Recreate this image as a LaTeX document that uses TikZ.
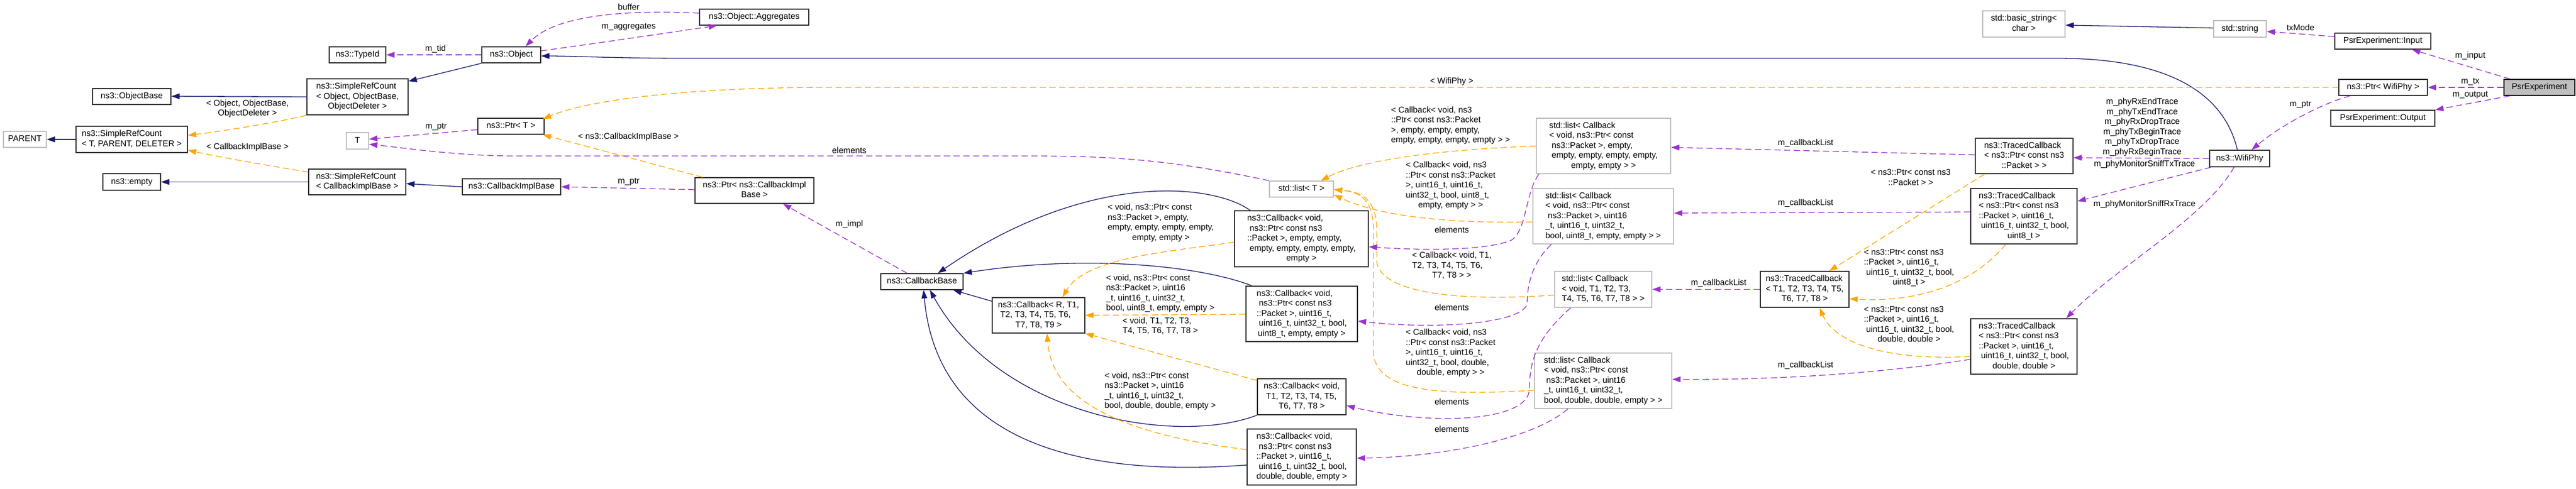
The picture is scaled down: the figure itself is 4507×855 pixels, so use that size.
\documentclass[tikz,border=0pt]{standalone}
\usepackage{fontspec}
\setmainfont{Liberation Sans}
\usetikzlibrary{arrows.meta}
\definecolor{inhc}{HTML}{191970}
\definecolor{usec}{HTML}{9A32CD}
\definecolor{tplc}{HTML}{FFA500}
\definecolor{undoc}{HTML}{BFBFBF}
\definecolor{docc}{HTML}{303030}
\newcommand{\ml}[2]{\begin{tabular}{@{}l@{}}#1\\\multicolumn{1}{@{}c@{}}{#2}\end{tabular}}
\tikzset{
  box/.style={draw=docc, line width=1.6pt, fill=white, rectangle, inner sep=0pt, font=\fontsize{14.8}{17.5}\selectfont, align=center},
  ubox/.style={box, draw=undoc},
  lbl/.style={inner sep=0pt, font=\fontsize{14.8}{17.5}\selectfont, align=center},
  tip/.style={-{Triangle[length=14.5pt,width=10pt]}},
  inh/.style={draw=inhc, line width=1.3pt, tip},
  use/.style={draw=usec, line width=1.3pt, dash pattern=on 11pt off 6pt, tip},
  tpl/.style={draw=tplc, line width=1.3pt, dash pattern=on 11pt off 6pt, tip}
}
\begin{document}
\begin{tikzpicture}[x=1pt,y=-1pt]
\useasboundingbox (0,0) rectangle (4507,855);
% ---------- nodes ----------
\node[ubox, minimum width=75pt, minimum height=28pt] (parent) at (43.5,244) {\strut PARENT};
\node[box, minimum width=195pt, minimum height=46pt] (srcT) at (230.5,244) {\ml{ns3::SimpleRefCount}{< T, PARENT, DELETER >}};
\node[box, minimum width=137pt, minimum height=28pt] (objbase) at (230.5,169) {\strut ns3::ObjectBase};
\node[box, minimum width=101pt, minimum height=29pt] (empty) at (230.5,318.5) {\strut ns3::empty};
\node[box, minimum width=99pt, minimum height=28pt] (typeid) at (625.5,96) {\strut ns3::TypeId};
\node[box, minimum width=177pt, minimum height=63pt] (srcO) at (625.5,169.5) {\ml{ns3::SimpleRefCount\\< Object, ObjectBase,}{ObjectDeleter >}};
\node[ubox, minimum width=39pt, minimum height=29pt] (T) at (625.5,246.5) {\strut T};
\node[box, minimum width=170pt, minimum height=45pt] (srcCIB) at (625,318.5) {\ml{ns3::SimpleRefCount}{< CallbackImplBase >}};
\node[box, minimum width=103pt, minimum height=28pt] (object) at (894.5,96) {\strut ns3::Object};
\node[box, minimum width=116pt, minimum height=28pt] (ptrT) at (894,221) {\strut ns3::Ptr< T >};
\node[box, minimum width=172pt, minimum height=28pt] (cib) at (895,327) {\strut ns3::CallbackImplBase};
\node[box, minimum width=191pt, minimum height=28pt] (aggregates) at (1319.5,30) {\strut ns3::Object::Aggregates};
\node[box, minimum width=208pt, minimum height=45pt] (ptrCIB) at (1320,333.5) {\ml{ns3::Ptr< ns3::CallbackImpl}{Base >}};
\node[box, minimum width=144pt, minimum height=28pt] (cbbase) at (1613,493) {\strut ns3::CallbackBase};
\node[box, minimum width=162pt, minimum height=62pt] (cbR) at (1817,552) {\ml{ns3::Callback< R, T1,\\\ T2, T3, T4, T5, T6,}{T7, T8, T9 >}};
\node[ubox, minimum width=112pt, minimum height=28pt] (listT) at (2277,331) {\strut std::list< T >};
\node[box, minimum width=234pt, minimum height=98pt] (cbEmpty) at (2277,418) {\ml{ns3::Callback< void,\\\ ns3::Ptr< const ns3\\::Packet >, empty, empty,\\\ empty, empty, empty, empty,}{empty >}};
\node[box, minimum width=195pt, minimum height=97pt] (cbU8) at (2277.5,549.5) {\ml{ns3::Callback< void,\\\ ns3::Ptr< const ns3\\::Packet >, uint16\_t,\\\ uint16\_t, uint32\_t, bool,}{uint8\_t, empty, empty >}};
\node[box, minimum width=155pt, minimum height=63pt] (cbT) at (2277.5,694.5) {\ml{ns3::Callback< void,\\\ T1, T2, T3, T4, T5,}{T6, T7, T8 >}};
\node[box, minimum width=191pt, minimum height=98pt] (cbDbl) at (2277.5,800) {\ml{ns3::Callback< void,\\\ ns3::Ptr< const ns3\\::Packet >, uint16\_t,\\\ uint16\_t, uint32\_t, bool,}{double, double, empty >}};
\node[ubox, minimum width=235pt, minimum height=97pt] (listEmpty) at (2805.5,255.5) {\ml{std::list< Callback\\< void, ns3::Ptr< const\\\ ns3::Packet >, empty,\\\ empty, empty, empty, empty,}{empty, empty > >}};
\node[ubox, minimum width=246pt, minimum height=97pt] (listU8) at (2805,378.5) {\ml{std::list< Callback\\< void, ns3::Ptr< const\\\ ns3::Packet >, uint16\\\_t, uint16\_t, uint32\_t,}{bool, uint8\_t, empty, empty > >}};
\node[ubox, minimum width=170pt, minimum height=63pt] (listT8) at (2805,506.5) {\ml{std::list< Callback\\< void, T1, T2, T3,}{T4, T5, T6, T7, T8 > >}};
\node[ubox, minimum width=240pt, minimum height=97pt] (listDbl) at (2805,666.5) {\ml{std::list< Callback\\< void, ns3::Ptr< const\\\ ns3::Packet >, uint16\\\_t, uint16\_t, uint32\_t,}{bool, double, double, empty > >}};
\node[ubox, minimum width=144pt, minimum height=46pt] (basicstr) at (3541,42) {\ml{std::basic\_string<}{char >}};
\node[box, minimum width=171pt, minimum height=62pt] (tcPtr) at (3541.5,273) {\ml{ns3::TracedCallback\\< ns3::Ptr< const ns3}{::Packet > >}};
\node[box, minimum width=186pt, minimum height=97pt] (tcU8) at (3541,378.5) {\ml{ns3::TracedCallback\\< ns3::Ptr< const ns3\\::Packet >, uint16\_t,\\\ uint16\_t, uint32\_t, bool,}{uint8\_t >}};
\node[box, minimum width=155pt, minimum height=63pt] (tcT) at (3157.5,506.5) {\ml{ns3::TracedCallback\\< T1, T2, T3, T4, T5,}{T6, T7, T8 >}};
\node[box, minimum width=186pt, minimum height=97pt] (tcDbl) at (3541,606.5) {\ml{ns3::TracedCallback\\< ns3::Ptr< const ns3\\::Packet >, uint16\_t,\\\ uint16\_t, uint32\_t, bool,}{double, double >}};
\node[ubox, minimum width=92pt, minimum height=29pt] (string) at (3919,50.5) {\strut std::string};
\node[box, minimum width=105pt, minimum height=29pt] (wifiphy) at (3918.5,277.5) {\strut ns3::WifiPhy};
\node[box, minimum width=168pt, minimum height=28pt] (input) at (4169,72) {\strut PsrExperiment::Input};
\node[box, minimum width=155pt, minimum height=28pt] (ptrWifi) at (4169.5,153) {\strut ns3::Ptr< WifiPhy >};
\node[box, minimum width=182pt, minimum height=28pt] (output) at (4169,207) {\strut PsrExperiment::Output};
\node[box, draw=black, fill=undoc, minimum width=124pt, minimum height=28pt] (psr) at (4443,153) {\strut PsrExperiment};
% ---------- edge labels ----------
\node[lbl] (l1) at (762,86) {m\_tid};
\node[lbl] (l2) at (1100,12) {buffer};
\node[lbl] (l3) at (1100,47) {m\_aggregates};
\node[lbl] (l4) at (433,190.5) {\ml{< Object, ObjectBase,}{ObjectDeleter >}};
\node[lbl] (l5) at (433,258) {< CallbackImplBase >};
\node[lbl] (l6) at (763,222) {m\_ptr};
\node[lbl] (l7) at (1099.5,240) {< ns3::CallbackImplBase >};
\node[lbl] (l8) at (1100,318) {m\_ptr};
\node[lbl] (l9) at (1486,393) {m\_impl};
\node[lbl] (l10) at (1486,263) {elements};
\node[lbl] (l11) at (2540,143) {< WifiPhy >};
\node[lbl] (l12) at (2031,390.5) {\ml{< void, ns3::Ptr< const\\ns3::Packet >, empty,\\empty, empty, empty, empty,}{empty, empty >}};
\node[lbl] (l13) at (2030,514) {\ml{< void, ns3::Ptr< const\\ns3::Packet >, uint16\\\_t, uint16\_t, uint32\_t,}{bool, uint8\_t, empty, empty >}};
\node[lbl] (l14) at (2030,571.5) {\ml{< void, T1, T2, T3,}{T4, T5, T6, T7, T8 >}};
\node[lbl] (l15) at (2030,685) {\ml{< void, ns3::Ptr< const\\ns3::Packet >, uint16\\\_t, uint16\_t, uint32\_t,}{bool, double, double, empty >}};
\node[lbl] (l16) at (2538,220) {\ml{< Callback< void, ns3\\::Ptr< const ns3::Packet\\>, empty, empty, empty,}{empty, empty, empty, empty > >}};
\node[lbl] (l17) at (2538,325) {\ml{< Callback< void, ns3\\::Ptr< const ns3::Packet\\>, uint16\_t, uint16\_t,\\uint32\_t, bool, uint8\_t,}{empty, empty > >}};
\node[lbl] (l18) at (2540,402) {elements};
\node[lbl] (l19) at (2540,465.5) {\ml{< Callback< void, T1,\\T2, T3, T4, T5, T6,}{T7, T8 > >}};
\node[lbl] (l20) at (2540,538) {elements};
\node[lbl] (l21) at (2538,618) {\ml{< Callback< void, ns3\\::Ptr< const ns3::Packet\\>, uint16\_t, uint16\_t,\\uint32\_t, bool, double,}{double, empty > >}};
\node[lbl] (l22) at (2540,703) {elements};
\node[lbl] (l23) at (2540,751) {elements};
\node[lbl] (l24) at (3159,251) {m\_callbackList};
\node[lbl] (l25) at (3343,312) {\ml{< ns3::Ptr< const ns3}{::Packet > >}};
\node[lbl] (l26) at (3159,356) {m\_callbackList};
\node[lbl] (l27) at (3007,496) {m\_callbackList};
\node[lbl] (l28) at (3340,469) {\ml{< ns3::Ptr< const ns3\\::Packet >, uint16\_t,\\\ uint16\_t, uint32\_t, bool,}{uint8\_t >}};
\node[lbl] (l29) at (3340,569) {\ml{< ns3::Ptr< const ns3\\::Packet >, uint16\_t,\\\ uint16\_t, uint32\_t, bool,}{double, double >}};
\node[lbl] (l30) at (3159,640) {m\_callbackList};
\node[lbl] (l31) at (3748,222.5) {m\_phyRxEndTrace\\m\_phyTxEndTrace\\m\_phyRxDropTrace\\m\_phyTxBeginTrace\\m\_phyTxDropTrace\\m\_phyRxBeginTrace};
\node[lbl] (l32) at (3752,288) {m\_phyMonitorSniffTxTrace};
\node[lbl] (l33) at (3752,358) {m\_phyMonitorSniffRxTrace};
\node[lbl] (l34) at (4025,48) {txMode};
\node[lbl] (l35) at (4322,98) {m\_input};
\node[lbl] (l36) at (4322,143) {m\_tx};
\node[lbl] (l37) at (4322,166) {m\_output};
\node[lbl] (l38) at (4025,183) {m\_ptr};
% ---------- inheritance ----------
\draw[inh] (srcT.west) -- (parent.east);
\draw[inh] (srcO.west) -- ([yshift=0.5pt]objbase.east);
\draw[inh] (srcCIB.west) -- (empty.east);
\draw[inh] (object.south west) -- ([yshift=-5pt]srcO.north east);
\draw[inh] (cib.west) -- ([yshift=-3pt]srcCIB.east);
\draw[inh] ([xshift=-4pt]wifiphy.north) .. controls (3890,160) and (3790,102) .. (3600,102) -- (1200,102) .. controls (1080,102) and (1000,98) .. ([yshift=-2pt]object.east);
\draw[inh] ([yshift=-7pt]cbR.north west) -- ([xshift=-18pt]cbbase.south east);
\draw[inh] ([xshift=28pt]cbEmpty.north west) .. controls (2120,320) and (1900,300) .. ([xshift=28pt]cbbase.north);
\draw[inh] ([xshift=11pt]cbU8.north west) .. controls (2100,465) and (1900,445) .. (cbbase.north east);
\draw[inh] (cbT.south west) .. controls (2060,780) and (1750,730) .. ([xshift=14pt]cbbase.south);
\draw[inh] ([yshift=-14pt]cbDbl.west) .. controls (1900,835) and (1640,780) .. ([xshift=3pt]cbbase.south);
\draw[inh] ([yshift=1.5pt]string.west) -- ([yshift=-2pt]basicstr.east);
% ---------- template instances ----------
\draw[tpl] (srcO.south west) .. controls (480,215) and (400,228) .. ([yshift=7pt]srcT.east);
\draw[tpl] ([yshift=-6pt]srcCIB.north west) .. controls (470,290) and (400,278) .. ([yshift=-19pt]srcT.east);
\draw[tpl] (ptrWifi.west) -- (1450,153) .. controls (1200,153) and (1030,175) .. ([xshift=-3pt,yshift=-2pt]ptrT.north east);
\draw[tpl] ([xshift=14pt]ptrCIB.north west) -- ([xshift=-3pt]ptrT.south east);
\draw[tpl] ([yshift=-6pt]cbEmpty.west) .. controls (2050,440) and (1900,450) .. ([xshift=42pt]cbR.north);
\draw[tpl] ([yshift=-0.5pt]cbU8.west) -- (cbR.east);
\draw[tpl] ([yshift=28.5pt]cbT.west) -- (cbR.south east);
\draw[tpl] ([yshift=13pt]cbDbl.west) .. controls (1960,760) and (1840,700) .. ([xshift=15pt]cbR.south);
\draw[tpl] (listEmpty.west) .. controls (2520,262) and (2380,280) .. ([xshift=34pt]listT.north);
\draw[tpl] ([yshift=-10pt]listU8.west) .. controls (2500,392) and (2400,372) .. ([yshift=-10pt]listT.east);
\draw[tpl] ([yshift=-10pt]listT8.west) .. controls (2560,528) and (2420,515) .. (2409,460) -- (2409,400) .. controls (2407,350) and (2385,336) .. ([yshift=-1pt]listT.east);
\draw[tpl] ([yshift=-16.5pt]listDbl.west) .. controls (2500,695) and (2410,680) .. (2403,620) -- (2403,400) .. controls (2402,350) and (2380,336) .. ([yshift=-1pt]listT.east);
\draw[tpl] ([xshift=17pt]tcPtr.south west) -- ([xshift=43pt]tcT.north);
\draw[tpl] ([xshift=-32pt]tcU8.south) .. controls (3450,500) and (3350,530) .. ([yshift=-16.5pt]tcT.east);
\draw[tpl] ([yshift=-17.5pt]tcDbl.west) .. controls (3300,632) and (3210,600) .. ([xshift=26pt]tcT.south);
% ---------- usage ----------
\draw[use] (object.west) -- (typeid.east);
\draw[use] ([yshift=7pt]aggregates.west) .. controls (1080,16) and (970,30) .. ([xshift=25pt]object.north);
\draw[use] ([yshift=7pt]object.east) .. controls (1050,75) and (1150,60) .. ([xshift=-65pt]aggregates.south);
\draw[use] ([yshift=-6pt]ptrT.west) -- ([yshift=3pt]T.east);
\draw[use] (listT.north west) .. controls (2050,280) and (1950,273) .. (1800,273) -- (900,273) .. controls (800,273) and (700,258) .. ([yshift=-6pt]T.east);
\draw[use] ([yshift=1.5pt]ptrCIB.west) -- (cib.east);
\draw[use] ([xshift=-26pt]cbbase.north) -- ([xshift=50pt]ptrCIB.south);
\draw[use] ([xshift=5pt]listEmpty.south west) .. controls (2668,340) and (2672,400) .. (2645,420) .. controls (2600,440) and (2480,438) .. ([yshift=-14pt]cbEmpty.east);
\draw[use] ([xshift=33pt]listU8.south west) .. controls (2680,460) and (2672,500) .. (2672,530) .. controls (2670,565) and (2520,578) .. ([yshift=-12.5pt]cbU8.east);
\draw[use] ([xshift=29pt]listT8.south west) .. controls (2690,590) and (2676,630) .. (2676,680) .. controls (2676,740) and (2500,745) .. ([yshift=-15.5pt]cbT.east);
\draw[use] ([xshift=59pt]listDbl.south west) .. controls (2680,770) and (2520,800) .. ([yshift=-2pt]cbDbl.east);
\draw[use] ([yshift=2pt]tcPtr.west) -- ([yshift=-2.5pt]listEmpty.east);
\draw[use] ([yshift=7.5pt]tcU8.west) -- ([yshift=5.5pt]listU8.east);
\draw[use] (tcT.west) -- (listT8.east);
\draw[use] ([yshift=-22.5pt]tcDbl.west) .. controls (3250,660) and (3050,665) .. ([yshift=2.5pt]listDbl.east);
\draw[use] (wifiphy.west) -- ([yshift=-3pt]tcPtr.east);
\draw[use] ([xshift=3pt]wifiphy.south west) -- ([yshift=-23pt]tcU8.north east);
\draw[use] ([xshift=-10pt]wifiphy.south) .. controls (3860,380) and (3700,470) .. ([xshift=74pt]tcDbl.north);
\draw[use] ([yshift=8pt]input.west) -- ([yshift=-4.5pt]string.east);
\draw[use] ([xshift=11pt]psr.north west) -- ([xshift=51pt]input.south);
\draw[use] (psr.west) -- (ptrWifi.east);
\draw[use] ([xshift=11pt]psr.south west) -- (output.north east);
\draw[use] ([xshift=-58pt]ptrWifi.south) .. controls (4060,182) and (3990,220) .. ([xshift=21pt]wifiphy.north);
\end{tikzpicture}
\end{document}
